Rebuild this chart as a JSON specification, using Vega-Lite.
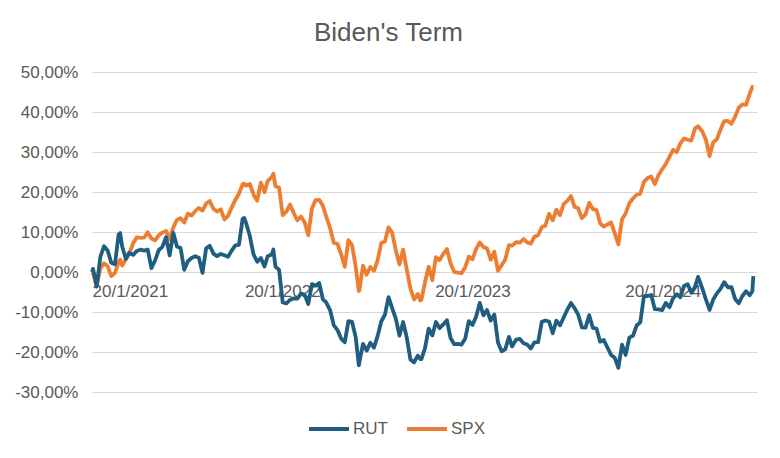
{
"$schema": "https://vega.github.io/schema/vega-lite/v6.json",
"width": 665, "height": 320,
"autosize": {"type": "none"},
"padding": {"left": 92, "top": 72, "right": 23, "bottom": 66},
"background": "white",
"title": {"text": "Biden's Term", "fontSize": 26, "font": "Liberation Sans", "fontWeight": "normal", "color": "#595959", "anchor": "middle", "dx": -36, "offset": 17},
"config": {"view": {"stroke": null}, "font": "Liberation Sans"},
"data": {"values": [
{"d":"2021-01-20","s":"SPX","v":0},{"d":"2021-01-20","s":"RUT","v":0},
{"d":"2021-01-22","s":"SPX","v":-0.26},{"d":"2021-01-22","s":"RUT","v":0.79},
{"d":"2021-01-29","s":"SPX","v":-3.56},{"d":"2021-01-29","s":"RUT","v":-3.63},
{"d":"2021-02-05","s":"SPX","v":0.93},{"d":"2021-02-05","s":"RUT","v":3.81},
{"d":"2021-02-12","s":"SPX","v":2.16},{"d":"2021-02-12","s":"RUT","v":6.42},
{"d":"2021-02-19","s":"SPX","v":1.45},{"d":"2021-02-19","s":"RUT","v":5.35},
{"d":"2021-02-26","s":"SPX","v":-1.04},{"d":"2021-02-26","s":"RUT","v":2.32},
{"d":"2021-03-05","s":"SPX","v":-0.23},{"d":"2021-03-05","s":"RUT","v":1.91},
{"d":"2021-03-12","s":"SPX","v":2.39},{"d":"2021-03-12","s":"RUT","v":9.34},
{"d":"2021-03-15","s":"SPX","v":3.06},{"d":"2021-03-15","s":"RUT","v":9.72},
{"d":"2021-03-19","s":"SPX","v":1.61},{"d":"2021-03-19","s":"RUT","v":6.32},
{"d":"2021-03-26","s":"SPX","v":3.22},{"d":"2021-03-26","s":"RUT","v":3.25},
{"d":"2021-04-01","s":"SPX","v":4.39},{"d":"2021-04-01","s":"RUT","v":4.79},
{"d":"2021-04-09","s":"SPX","v":7.22},{"d":"2021-04-09","s":"RUT","v":4.28},
{"d":"2021-04-16","s":"SPX","v":8.67},{"d":"2021-04-16","s":"RUT","v":5.25},
{"d":"2021-04-23","s":"SPX","v":8.54},{"d":"2021-04-23","s":"RUT","v":5.58},
{"d":"2021-04-30","s":"SPX","v":8.57},{"d":"2021-04-30","s":"RUT","v":5.35},
{"d":"2021-05-07","s":"SPX","v":9.92},{"d":"2021-05-07","s":"RUT","v":5.58},
{"d":"2021-05-14","s":"SPX","v":8.39},{"d":"2021-05-14","s":"RUT","v":0.98},
{"d":"2021-05-21","s":"SPX","v":7.92},{"d":"2021-05-21","s":"RUT","v":2.88},
{"d":"2021-05-28","s":"SPX","v":9.17},{"d":"2021-05-28","s":"RUT","v":5.44},
{"d":"2021-06-04","s":"SPX","v":9.84},{"d":"2021-06-04","s":"RUT","v":6.28},
{"d":"2021-06-11","s":"SPX","v":10.28},{"d":"2021-06-11","s":"RUT","v":8.69},
{"d":"2021-06-18","s":"SPX","v":8.18},{"d":"2021-06-18","s":"RUT","v":4.14},
{"d":"2021-06-25","s":"SPX","v":11.17},{"d":"2021-06-25","s":"RUT","v":9.81},
{"d":"2021-07-02","s":"SPX","v":13.01},{"d":"2021-07-02","s":"RUT","v":6.37},
{"d":"2021-07-09","s":"SPX","v":13.48},{"d":"2021-07-09","s":"RUT","v":6.0},
{"d":"2021-07-16","s":"SPX","v":12.36},{"d":"2021-07-16","s":"RUT","v":0.56},
{"d":"2021-07-23","s":"SPX","v":14.57},{"d":"2021-07-23","s":"RUT","v":2.7},
{"d":"2021-07-30","s":"SPX","v":14.13},{"d":"2021-07-30","s":"RUT","v":3.49},
{"d":"2021-08-06","s":"SPX","v":15.22},{"d":"2021-08-06","s":"RUT","v":3.95},
{"d":"2021-08-13","s":"SPX","v":16.02},{"d":"2021-08-13","s":"RUT","v":3.58},
{"d":"2021-08-20","s":"SPX","v":15.35},{"d":"2021-08-20","s":"RUT","v":-0.23},
{"d":"2021-08-27","s":"SPX","v":17.09},{"d":"2021-08-27","s":"RUT","v":5.9},
{"d":"2021-09-03","s":"SPX","v":17.76},{"d":"2021-09-03","s":"RUT","v":6.56},
{"d":"2021-09-10","s":"SPX","v":15.79},{"d":"2021-09-10","s":"RUT","v":4.6},
{"d":"2021-09-17","s":"SPX","v":15.11},{"d":"2021-09-17","s":"RUT","v":3.95},
{"d":"2021-09-24","s":"SPX","v":15.68},{"d":"2021-09-24","s":"RUT","v":4.51},
{"d":"2021-10-01","s":"SPX","v":13.14},{"d":"2021-10-01","s":"RUT","v":4.18},
{"d":"2021-10-08","s":"SPX","v":14.02},{"d":"2021-10-08","s":"RUT","v":3.81},
{"d":"2021-10-15","s":"SPX","v":16.1},{"d":"2021-10-15","s":"RUT","v":5.35},
{"d":"2021-10-22","s":"SPX","v":18.02},{"d":"2021-10-22","s":"RUT","v":6.65},
{"d":"2021-10-29","s":"SPX","v":19.58},{"d":"2021-10-29","s":"RUT","v":6.79},
{"d":"2021-11-05","s":"SPX","v":21.97},{"d":"2021-11-05","s":"RUT","v":13.3},
{"d":"2021-11-08","s":"SPX","v":22.07},{"d":"2021-11-08","s":"RUT","v":13.53},
{"d":"2021-11-12","s":"SPX","v":21.6},{"d":"2021-11-12","s":"RUT","v":12.13},
{"d":"2021-11-19","s":"SPX","v":21.99},{"d":"2021-11-19","s":"RUT","v":8.93},
{"d":"2021-11-26","s":"SPX","v":19.32},{"d":"2021-11-26","s":"RUT","v":4.37},
{"d":"2021-12-03","s":"SPX","v":17.84},{"d":"2021-12-03","s":"RUT","v":2.56},
{"d":"2021-12-10","s":"SPX","v":22.36},{"d":"2021-12-10","s":"RUT","v":3.49},
{"d":"2021-12-17","s":"SPX","v":19.97},{"d":"2021-12-17","s":"RUT","v":1.39},
{"d":"2021-12-23","s":"SPX","v":22.7},{"d":"2021-12-23","s":"RUT","v":3.95},
{"d":"2021-12-31","s":"SPX","v":23.76},{"d":"2021-12-31","s":"RUT","v":4.37},
{"d":"2022-01-03","s":"SPX","v":24.57},{"d":"2022-01-03","s":"RUT","v":5.63},
{"d":"2022-01-07","s":"SPX","v":21.45},{"d":"2022-01-07","s":"RUT","v":1.35},
{"d":"2022-01-14","s":"SPX","v":21.09},{"d":"2022-01-14","s":"RUT","v":0.51},
{"d":"2022-01-21","s":"SPX","v":14.2},{"d":"2022-01-21","s":"RUT","v":-7.62},
{"d":"2022-01-28","s":"SPX","v":15.09},{"d":"2022-01-28","s":"RUT","v":-7.86},
{"d":"2022-02-04","s":"SPX","v":16.88},{"d":"2022-02-04","s":"RUT","v":-6.93},
{"d":"2022-02-11","s":"SPX","v":14.75},{"d":"2022-02-11","s":"RUT","v":-6.6},
{"d":"2022-02-18","s":"SPX","v":12.93},{"d":"2022-02-18","s":"RUT","v":-6.65},
{"d":"2022-02-25","s":"SPX","v":13.87},{"d":"2022-02-25","s":"RUT","v":-5.39},
{"d":"2022-03-04","s":"SPX","v":12.41},{"d":"2022-03-04","s":"RUT","v":-5.72},
{"d":"2022-03-11","s":"SPX","v":9.17},{"d":"2022-03-11","s":"RUT","v":-8.0},
{"d":"2022-03-18","s":"SPX","v":15.89},{"d":"2022-03-18","s":"RUT","v":-3.02},
{"d":"2022-03-25","s":"SPX","v":17.97},{"d":"2022-03-25","s":"RUT","v":-3.44},
{"d":"2022-04-01","s":"SPX","v":18.05},{"d":"2022-04-01","s":"RUT","v":-2.74},
{"d":"2022-04-08","s":"SPX","v":16.54},{"d":"2022-04-08","s":"RUT","v":-6.83},
{"d":"2022-04-14","s":"SPX","v":14.07},{"d":"2022-04-14","s":"RUT","v":-7.53},
{"d":"2022-04-22","s":"SPX","v":10.93},{"d":"2022-04-22","s":"RUT","v":-9.58},
{"d":"2022-04-29","s":"SPX","v":7.3},{"d":"2022-04-29","s":"RUT","v":-13.34},
{"d":"2022-05-06","s":"SPX","v":7.06},{"d":"2022-05-06","s":"RUT","v":-14.5},
{"d":"2022-05-13","s":"SPX","v":4.49},{"d":"2022-05-13","s":"RUT","v":-16.64},
{"d":"2022-05-20","s":"SPX","v":1.3},{"d":"2022-05-20","s":"RUT","v":-17.57},
{"d":"2022-05-27","s":"SPX","v":7.97},{"d":"2022-05-27","s":"RUT","v":-12.27},
{"d":"2022-06-03","s":"SPX","v":6.7},{"d":"2022-06-03","s":"RUT","v":-12.46},
{"d":"2022-06-10","s":"SPX","v":1.3},{"d":"2022-06-10","s":"RUT","v":-16.32},
{"d":"2022-06-16","s":"SPX","v":-4.78},{"d":"2022-06-16","s":"RUT","v":-23.34},
{"d":"2022-06-17","s":"SPX","v":-4.57},{"d":"2022-06-17","s":"RUT","v":-22.59},
{"d":"2022-06-24","s":"SPX","v":1.58},{"d":"2022-06-24","s":"RUT","v":-17.95},
{"d":"2022-07-01","s":"SPX","v":-0.68},{"d":"2022-07-01","s":"RUT","v":-19.67},
{"d":"2022-07-08","s":"SPX","v":1.25},{"d":"2022-07-08","s":"RUT","v":-17.71},
{"d":"2022-07-15","s":"SPX","v":0.31},{"d":"2022-07-15","s":"RUT","v":-18.92},
{"d":"2022-07-22","s":"SPX","v":2.88},{"d":"2022-07-22","s":"RUT","v":-16.04},
{"d":"2022-07-29","s":"SPX","v":7.24},{"d":"2022-07-29","s":"RUT","v":-12.37},
{"d":"2022-08-05","s":"SPX","v":7.63},{"d":"2022-08-05","s":"RUT","v":-10.69},
{"d":"2022-08-12","s":"SPX","v":11.14},{"d":"2022-08-12","s":"RUT","v":-6.28},
{"d":"2022-08-19","s":"SPX","v":9.79},{"d":"2022-08-19","s":"RUT","v":-9.02},
{"d":"2022-08-26","s":"SPX","v":5.38},{"d":"2022-08-26","s":"RUT","v":-11.72},
{"d":"2022-09-02","s":"SPX","v":1.9},{"d":"2022-09-02","s":"RUT","v":-15.9},
{"d":"2022-09-09","s":"SPX","v":5.61},{"d":"2022-09-09","s":"RUT","v":-12.51},
{"d":"2022-09-16","s":"SPX","v":0.57},{"d":"2022-09-16","s":"RUT","v":-16.41},
{"d":"2022-09-23","s":"SPX","v":-4.1},{"d":"2022-09-23","s":"RUT","v":-21.9},
{"d":"2022-09-30","s":"SPX","v":-6.88},{"d":"2022-09-30","s":"RUT","v":-22.59},
{"d":"2022-10-07","s":"SPX","v":-5.48},{"d":"2022-10-07","s":"RUT","v":-20.92},
{"d":"2022-10-12","s":"SPX","v":-7.12},{"d":"2022-10-12","s":"RUT","v":-21.8},
{"d":"2022-10-14","s":"SPX","v":-6.96},{"d":"2022-10-14","s":"RUT","v":-21.76},
{"d":"2022-10-21","s":"SPX","v":-2.57},{"d":"2022-10-21","s":"RUT","v":-19.01},
{"d":"2022-10-28","s":"SPX","v":1.3},{"d":"2022-10-28","s":"RUT","v":-14.18},
{"d":"2022-11-04","s":"SPX","v":-2.08},{"d":"2022-11-04","s":"RUT","v":-15.85},
{"d":"2022-11-11","s":"SPX","v":3.69},{"d":"2022-11-11","s":"RUT","v":-12.51},
{"d":"2022-11-18","s":"SPX","v":2.96},{"d":"2022-11-18","s":"RUT","v":-14.04},
{"d":"2022-11-25","s":"SPX","v":4.54},{"d":"2022-11-25","s":"RUT","v":-13.11},
{"d":"2022-12-02","s":"SPX","v":5.74},{"d":"2022-12-02","s":"RUT","v":-12.04},
{"d":"2022-12-09","s":"SPX","v":2.16},{"d":"2022-12-09","s":"RUT","v":-16.5},
{"d":"2022-12-16","s":"SPX","v":0.03},{"d":"2022-12-16","s":"RUT","v":-18.04},
{"d":"2022-12-23","s":"SPX","v":-0.16},{"d":"2022-12-23","s":"RUT","v":-17.95},
{"d":"2022-12-30","s":"SPX","v":-0.29},{"d":"2022-12-30","s":"RUT","v":-18.13},
{"d":"2023-01-06","s":"SPX","v":1.14},{"d":"2023-01-06","s":"RUT","v":-16.69},
{"d":"2023-01-13","s":"SPX","v":3.84},{"d":"2023-01-13","s":"RUT","v":-12.27},
{"d":"2023-01-20","s":"SPX","v":3.17},{"d":"2023-01-20","s":"RUT","v":-13.25},
{"d":"2023-01-27","s":"SPX","v":5.71},{"d":"2023-01-27","s":"RUT","v":-11.16},
{"d":"2023-02-03","s":"SPX","v":7.4},{"d":"2023-02-03","s":"RUT","v":-7.72},
{"d":"2023-02-10","s":"SPX","v":6.21},{"d":"2023-02-10","s":"RUT","v":-10.83},
{"d":"2023-02-17","s":"SPX","v":5.92},{"d":"2023-02-17","s":"RUT","v":-9.53},
{"d":"2023-02-24","s":"SPX","v":3.09},{"d":"2023-02-24","s":"RUT","v":-12.13},
{"d":"2023-03-03","s":"SPX","v":5.06},{"d":"2023-03-03","s":"RUT","v":-10.65},
{"d":"2023-03-10","s":"SPX","v":0.29},{"d":"2023-03-10","s":"RUT","v":-17.62},
{"d":"2023-03-17","s":"SPX","v":1.71},{"d":"2023-03-17","s":"RUT","v":-19.8},
{"d":"2023-03-24","s":"SPX","v":3.12},{"d":"2023-03-24","s":"RUT","v":-19.34},
{"d":"2023-03-31","s":"SPX","v":6.7},{"d":"2023-03-31","s":"RUT","v":-16.22},
{"d":"2023-04-06","s":"SPX","v":6.6},{"d":"2023-04-06","s":"RUT","v":-18.6},
{"d":"2023-04-14","s":"SPX","v":7.45},{"d":"2023-04-14","s":"RUT","v":-16.88},
{"d":"2023-04-21","s":"SPX","v":7.32},{"d":"2023-04-21","s":"RUT","v":-16.74},
{"d":"2023-04-28","s":"SPX","v":8.26},{"d":"2023-04-28","s":"RUT","v":-17.81},
{"d":"2023-05-05","s":"SPX","v":7.4},{"d":"2023-05-05","s":"RUT","v":-18.13},
{"d":"2023-05-12","s":"SPX","v":7.09},{"d":"2023-05-12","s":"RUT","v":-19.11},
{"d":"2023-05-19","s":"SPX","v":8.85},{"d":"2023-05-19","s":"RUT","v":-17.57},
{"d":"2023-05-26","s":"SPX","v":9.19},{"d":"2023-05-26","s":"RUT","v":-17.53},
{"d":"2023-06-02","s":"SPX","v":11.19},{"d":"2023-06-02","s":"RUT","v":-12.46},
{"d":"2023-06-09","s":"SPX","v":11.63},{"d":"2023-06-09","s":"RUT","v":-12.13},
{"d":"2023-06-16","s":"SPX","v":14.52},{"d":"2023-06-16","s":"RUT","v":-12.37},
{"d":"2023-06-23","s":"SPX","v":12.91},{"d":"2023-06-23","s":"RUT","v":-15.3},
{"d":"2023-06-30","s":"SPX","v":15.55},{"d":"2023-06-30","s":"RUT","v":-12.18},
{"d":"2023-07-07","s":"SPX","v":14.23},{"d":"2023-07-07","s":"RUT","v":-13.34},
{"d":"2023-07-14","s":"SPX","v":16.98},{"d":"2023-07-14","s":"RUT","v":-11.39},
{"d":"2023-07-21","s":"SPX","v":17.79},{"d":"2023-07-21","s":"RUT","v":-9.44},
{"d":"2023-07-28","s":"SPX","v":18.98},{"d":"2023-07-28","s":"RUT","v":-7.76},
{"d":"2023-08-04","s":"SPX","v":16.28},{"d":"2023-08-04","s":"RUT","v":-9.02},
{"d":"2023-08-11","s":"SPX","v":15.92},{"d":"2023-08-11","s":"RUT","v":-10.69},
{"d":"2023-08-18","s":"SPX","v":13.48},{"d":"2023-08-18","s":"RUT","v":-13.85},
{"d":"2023-08-25","s":"SPX","v":14.41},{"d":"2023-08-25","s":"RUT","v":-13.9},
{"d":"2023-09-01","s":"SPX","v":17.27},{"d":"2023-09-01","s":"RUT","v":-10.79},
{"d":"2023-09-08","s":"SPX","v":15.74},{"d":"2023-09-08","s":"RUT","v":-13.95},
{"d":"2023-09-15","s":"SPX","v":15.55},{"d":"2023-09-15","s":"RUT","v":-14.13},
{"d":"2023-09-22","s":"SPX","v":12.18},{"d":"2023-09-22","s":"RUT","v":-17.43},
{"d":"2023-09-29","s":"SPX","v":11.35},{"d":"2023-09-29","s":"RUT","v":-17.02},
{"d":"2023-10-06","s":"SPX","v":11.89},{"d":"2023-10-06","s":"RUT","v":-18.88},
{"d":"2023-10-13","s":"SPX","v":12.36},{"d":"2023-10-13","s":"RUT","v":-20.73},
{"d":"2023-10-20","s":"SPX","v":9.69},{"d":"2023-10-20","s":"RUT","v":-21.43},
{"d":"2023-10-27","s":"SPX","v":6.91},{"d":"2023-10-27","s":"RUT","v":-23.94},
{"d":"2023-11-03","s":"SPX","v":13.17},{"d":"2023-11-03","s":"RUT","v":-18.18},
{"d":"2023-11-10","s":"SPX","v":14.65},{"d":"2023-11-10","s":"RUT","v":-20.73},
{"d":"2023-11-17","s":"SPX","v":17.22},{"d":"2023-11-17","s":"RUT","v":-16.41},
{"d":"2023-11-24","s":"SPX","v":18.38},{"d":"2023-11-24","s":"RUT","v":-15.95},
{"d":"2023-12-01","s":"SPX","v":19.32},{"d":"2023-12-01","s":"RUT","v":-13.39},
{"d":"2023-12-08","s":"SPX","v":19.55},{"d":"2023-12-08","s":"RUT","v":-12.6},
{"d":"2023-12-15","s":"SPX","v":22.54},{"d":"2023-12-15","s":"RUT","v":-6.04},
{"d":"2023-12-22","s":"SPX","v":23.47},{"d":"2023-12-22","s":"RUT","v":-6.0},
{"d":"2023-12-29","s":"SPX","v":23.86},{"d":"2023-12-29","s":"RUT","v":-5.76},
{"d":"2024-01-05","s":"SPX","v":21.97},{"d":"2024-01-05","s":"RUT","v":-9.3},
{"d":"2024-01-12","s":"SPX","v":24.23},{"d":"2024-01-12","s":"RUT","v":-9.34},
{"d":"2024-01-19","s":"SPX","v":25.68},{"d":"2024-01-19","s":"RUT","v":-9.53},
{"d":"2024-01-26","s":"SPX","v":27.01},{"d":"2024-01-26","s":"RUT","v":-7.72},
{"d":"2024-02-02","s":"SPX","v":28.77},{"d":"2024-02-02","s":"RUT","v":-8.83},
{"d":"2024-02-09","s":"SPX","v":30.54},{"d":"2024-02-09","s":"RUT","v":-6.56},
{"d":"2024-02-16","s":"SPX","v":29.99},{"d":"2024-02-16","s":"RUT","v":-5.58},
{"d":"2024-02-23","s":"SPX","v":32.15},{"d":"2024-02-23","s":"RUT","v":-6.28},
{"d":"2024-03-01","s":"SPX","v":33.39},{"d":"2024-03-01","s":"RUT","v":-3.49},
{"d":"2024-03-08","s":"SPX","v":33.06},{"d":"2024-03-08","s":"RUT","v":-3.07},
{"d":"2024-03-15","s":"SPX","v":32.87},{"d":"2024-03-15","s":"RUT","v":-5.21},
{"d":"2024-03-22","s":"SPX","v":35.91},{"d":"2024-03-22","s":"RUT","v":-3.67},
{"d":"2024-03-28","s":"SPX","v":36.43},{"d":"2024-03-28","s":"RUT","v":-1.21},
{"d":"2024-04-05","s":"SPX","v":35.13},{"d":"2024-04-05","s":"RUT","v":-4.09},
{"d":"2024-04-12","s":"SPX","v":33.03},{"d":"2024-04-12","s":"RUT","v":-6.88},
{"d":"2024-04-19","s":"SPX","v":28.98},{"d":"2024-04-19","s":"RUT","v":-9.48},
{"d":"2024-04-26","s":"SPX","v":32.43},{"d":"2024-04-26","s":"RUT","v":-6.88},
{"d":"2024-05-03","s":"SPX","v":33.16},{"d":"2024-05-03","s":"RUT","v":-5.35},
{"d":"2024-05-10","s":"SPX","v":35.63},{"d":"2024-05-10","s":"RUT","v":-4.23},
{"d":"2024-05-17","s":"SPX","v":37.7},{"d":"2024-05-17","s":"RUT","v":-2.56},
{"d":"2024-05-24","s":"SPX","v":37.76},{"d":"2024-05-24","s":"RUT","v":-3.81},
{"d":"2024-05-31","s":"SPX","v":37.06},{"d":"2024-05-31","s":"RUT","v":-3.77},
{"d":"2024-06-07","s":"SPX","v":38.85},{"d":"2024-06-07","s":"RUT","v":-6.74},
{"d":"2024-06-14","s":"SPX","v":41.06},{"d":"2024-06-14","s":"RUT","v":-7.81},
{"d":"2024-06-21","s":"SPX","v":41.91},{"d":"2024-06-21","s":"RUT","v":-6.0},
{"d":"2024-06-28","s":"SPX","v":41.78},{"d":"2024-06-28","s":"RUT","v":-4.79},
{"d":"2024-07-05","s":"SPX","v":44.56},{"d":"2024-07-05","s":"RUT","v":-5.81},
{"d":"2024-07-10","s":"SPX","v":46.27},{"d":"2024-07-10","s":"RUT","v":-4.83},
{"d":"2024-07-12","s":"SPX","v":46.2},{"d":"2024-07-12","s":"RUT","v":-1.02}
]},
"mark": {"type": "line", "strokeWidth": 3.8, "strokeJoin": "round"},
"encoding": {
  "x": {"field": "d", "type": "temporal",
    "scale": {"type": "utc", "domain": [{"year": 2021, "month": 1, "date": 20, "utc": true}, {"year": 2024, "month": 7, "date": 19, "utc": true}]},
    "axis": {"values": [{"year": 2021, "month": 1, "date": 20, "utc": true}, {"year": 2022, "month": 1, "date": 20, "utc": true}, {"year": 2023, "month": 1, "date": 20, "utc": true}, {"year": 2024, "month": 1, "date": 20, "utc": true}],
      "labelExpr": "utcFormat(datum.value, '%-d/%-m/%Y')", "offset": -120, "domain": false, "ticks": false, "grid": false,
      "labelPadding": 11, "labelFontSize": 17, "labelColor": "#595959", "labelFont": "Liberation Sans", "title": null, "labelOverlap": false}},
  "y": {"field": "v", "type": "quantitative",
    "scale": {"domain": [-30, 50], "nice": false, "zero": false},
    "axis": {"values": [-30, -20, -10, 0, 10, 20, 30, 40, 50],
      "labelExpr": "(datum.value < 0 ? '-' : '') + replace(format(abs(datum.value), '.2f'), '.', ',') + '%'",
      "domain": false, "ticks": false, "grid": true, "gridColor": "#d9d9d9", "gridWidth": 1,
      "labelPadding": 14, "labelFontSize": 17, "labelColor": "#595959", "labelFont": "Liberation Sans", "title": null}},
  "color": {"field": "s", "type": "nominal",
    "scale": {"domain": ["RUT", "SPX"], "range": ["#1f5e80", "#ed7d31"]},
    "legend": {"title": null, "orient": "none", "direction": "horizontal", "legendX": 215, "legendY": 335,
      "symbolType": "stroke", "symbolStrokeWidth": 4, "symbolSize": 1600, "labelFontSize": 17, "labelColor": "#595959",
      "labelFont": "Liberation Sans", "columnPadding": 11, "labelOffset": 2}}
}
}
